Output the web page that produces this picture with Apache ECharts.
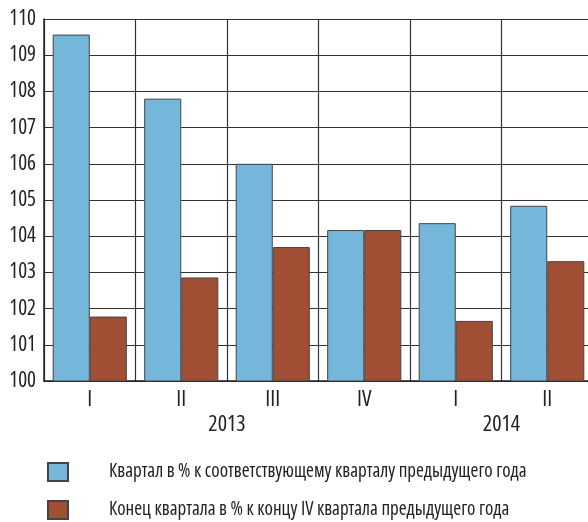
<!DOCTYPE html>
<html><head><meta charset="utf-8">
<script src="https://cdn.jsdelivr.net/npm/echarts@6/dist/echarts.min.js"></script>
<style>html,body{margin:0;padding:0;background:#fff}#c{width:588px;height:522px}</style>
</head><body><div id="c"></div>
<script>
const quarters = ['I','II','III','IV','I','II'];
const yearLabels = {2:'2013', 5:'2014'};
const seriesNames = ['Квартал в % к соответствующему кварталу предыдущего года','Конец квартала в % к концу IV квартала предыдущего года'];
const yoy = [109.57, 107.8, 106.0, 104.17, 104.36, 104.84];
const ytd = [101.78, 102.86, 103.7, 104.17, 101.66, 103.31];
const FONT = '"Open Sans","Roboto Condensed",sans-serif';
const TXT = {color:'#222', fontFamily:FONT, fontStyle:'normal', fontWeight:'condensed'};
const chart = echarts.init(document.getElementById('c'), null, {renderer:'canvas'});
chart.setOption({
  animation:false,
  grid:{left:44, top:19, width:549, height:362, outerBoundsMode:'none', containLabel:false},
  xAxis:[{
    type:'category', data:quarters, boundaryGap:true,
    axisLine:{show:true, lineStyle:{color:'#222', width:1.5}},
    axisTick:{show:false},
    axisLabel:Object.assign({fontSize:22, margin:8, interval:0}, TXT),
    splitLine:{show:true, interval:0, lineStyle:{color:'#333', width:1.2}}
  },{
    type:'value', position:'bottom', offset:0, min:0, max:6, interval:1,
    axisLine:{show:false}, axisTick:{show:false}, splitLine:{show:false},
    axisLabel:Object.assign({fontSize:22, margin:33, formatter:v=>yearLabels[v]||''}, TXT)
  }],
  yAxis:{
    type:'value', min:100, max:110, interval:1,
    axisLine:{show:true, lineStyle:{color:'#222', width:1.5}},
    axisTick:{show:false},
    axisLabel:Object.assign({fontSize:21, margin:8}, TXT),
    splitLine:{show:true, lineStyle:{color:'#333', width:1.2}}
  },
  legend:{
    orient:'vertical', left:47, top:462, padding:0, itemWidth:20, itemHeight:18, itemGap:18,
    icon:'rect',
    textStyle:Object.assign({fontSize:19, lineHeight:18, padding:[0,0,0,36]}, TXT),
    data:seriesNames
  },
  series:[{
    name:seriesNames[0], type:'bar', xAxisIndex:0, data:yoy,
    barGap:'0%', barCategoryGap:'19%',
    itemStyle:{color:'#74b7da', borderColor:'#444', borderWidth:1}
  },{
    name:seriesNames[1], type:'bar', xAxisIndex:0, data:ytd,
    barGap:'0%', barCategoryGap:'19%',
    itemStyle:{color:'#a04f34', borderColor:'#444', borderWidth:1}
  }]
});
</script></body></html>
